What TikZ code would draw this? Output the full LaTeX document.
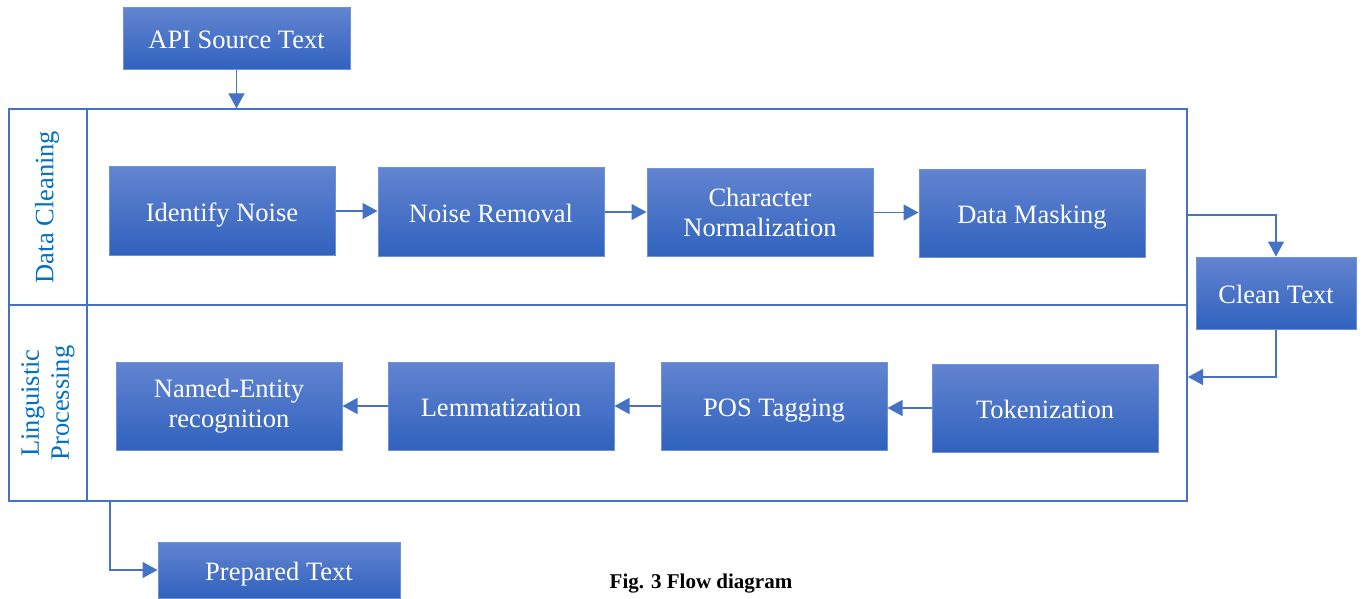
\documentclass[tikz,border=0pt]{standalone}
\usepackage{fontspec}
\setmainfont{Liberation Serif}
\usetikzlibrary{arrows.meta}
\definecolor{boxtop}{RGB}{98,132,208}
\definecolor{boxbot}{RGB}{48,98,190}
\definecolor{boxedge}{RGB}{110,145,215}
\definecolor{linec}{RGB}{68,114,196}
\definecolor{lanetext}{RGB}{0,112,192}
\begin{document}
\begin{tikzpicture}[x=1pt,y=-1pt,
  procbox/.style={draw=boxedge, line width=1pt, top color=boxtop, bottom color=boxbot,
    text=white, font=\fontsize{26.5}{30}\selectfont, align=center, inner sep=0pt,
    minimum width=226pt, minimum height=88pt},
  oneline/.style={text height=22pt, text depth=2pt},
  conn/.style={draw=linec, line width=1.3pt},
  arr/.style={conn, -{Triangle[length=15pt,width=16pt]}},
  lanelabel/.style={text=lanetext, font=\fontsize{26.5}{30}\selectfont, rotate=90, align=center, inner sep=0pt},
  framebox/.style={draw=linec, line width=1.3pt, inner sep=0pt}
]
\useasboundingbox (0,0) rectangle (1363,599);

% outer frame
\node[framebox, minimum width=1178pt, minimum height=392pt] (frame) at (598,305) {};
\draw[conn] (9,305) -- (1187,305);
\draw[conn] (87,109) -- (87,501);

% lane labels
\node[lanelabel] (lane1) at (47,207) {Data Cleaning};
\node[lanelabel] (lane2) at (48,403) {Linguistic\\Processing};

% source
\node[procbox, oneline, minimum width=227pt, minimum height=62pt] (api) at (236.5,39) {API Source Text};

% row 1
\node[procbox, oneline] (identify) at (222,211) {Identify Noise};
\node[procbox, oneline] (removal) at (491,212) {Noise Removal};
\node[procbox] (charnorm) at (760,212.5) {Character\\Normalization};
\node[procbox, oneline] (masking) at (1032,213.5) {Data Masking};

% clean text
\node[procbox, oneline, minimum width=160pt, minimum height=72pt] (clean) at (1276,293) {Clean Text};

% row 2
\node[procbox] (ner) at (229,406) {Named-Entity\\recognition};
\node[procbox, oneline] (lemma) at (501,406) {Lemmatization};
\node[procbox, oneline] (pos) at (774,406) {POS Tagging};
\node[procbox, oneline] (token) at (1045,408) {Tokenization};

% output
\node[procbox, oneline, minimum width=242pt, minimum height=56pt] (prepared) at (279,570) {Prepared Text};

% caption
\node[font=\bfseries\fontsize{21}{24}\selectfont, inner sep=0pt] (caption) at (701,584) {Fig. 3 Flow diagram};

% connectors
\draw[arr] (api.south) -- (api.south |- frame.north);
\draw[arr] (identify.east) -- (identify.east -| removal.west);
\draw[arr] (removal.east) -- (removal.east -| charnorm.west);
\draw[arr] (charnorm.east) -- (charnorm.east -| masking.west);

\coordinate (cleanout) at (1187,215);
\draw[arr] (cleanout) -| (clean.north);
\coordinate (retin) at (1188,377);
\draw[arr] (clean.south) |- (retin);

\draw[arr] (token.west) -- (token.west -| pos.east);
\draw[arr] (pos.west) -- (pos.west -| lemma.east);
\draw[arr] (lemma.west) -- (lemma.west -| ner.east);

\coordinate (outstart) at (110,501);
\draw[arr] (outstart) |- (prepared.west);
\end{tikzpicture}
\end{document}
